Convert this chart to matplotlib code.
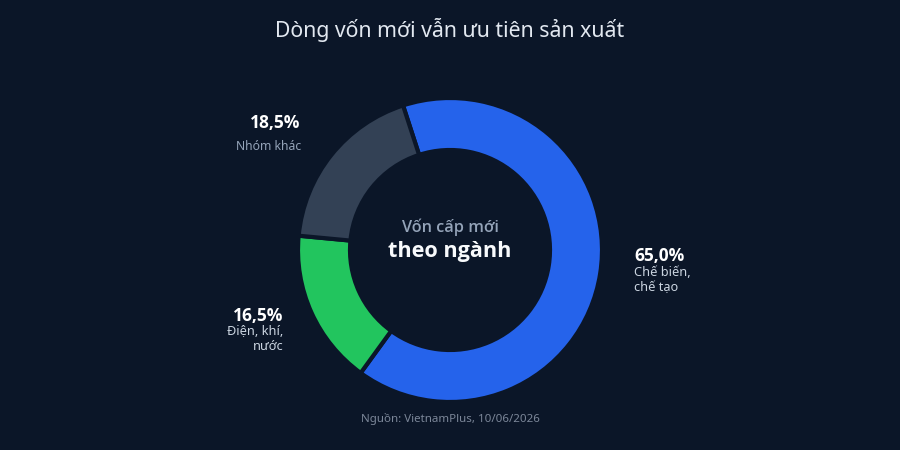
import matplotlib
matplotlib.use("Agg")
import matplotlib.pyplot as plt

plt.rcParams['font.family'] = ['Noto Sans', 'DejaVu Sans']
BOLD = ['Open Sans', 'Noto Sans', 'DejaVu Sans']

# Data
categories = ["Chế biến,\nchế tạo", "Điện, khí,\nnước", "Nhóm khác"]
values = [65.0, 16.5, 18.5]
value_labels = ["65,0%", "16,5%", "18,5%"]
colors = ["#2563eb", "#22c55e", "#334155"]

title = "Dòng vốn mới vẫn ưu tiên sản xuất"
center_top = "Vốn cấp mới"
center_main = "theo ngành"
source = "Nguồn: VietnamPlus, 10/06/2026"

BG = "#0b1628"
W, H = 900, 450

fig = plt.figure(figsize=(9, 4.5), dpi=100, facecolor=BG)
ax = fig.add_axes([0, 0, 1, 1])
ax.set_facecolor(BG)

cx, cy = 450, H - 250
ax.pie(values, colors=colors, startangle=108, counterclock=False,
       center=(cx, cy), radius=152,
       wedgeprops=dict(width=52, edgecolor=BG, linewidth=3))
ax.set_xlim(0, W)
ax.set_ylim(0, H)
ax.set_aspect('equal')
ax.axis('off')

def Y(y):
    return H - y

ax.text(450, Y(30), title, ha='center', va='center', fontsize=15.3, color='#e2e8f0')

ax.text(450, Y(227), center_top, ha='center', va='center', fontsize=11.7,
        color='#94a3b8', fontweight=600, family=BOLD)
ax.text(450, Y(252), center_main, ha='center', va='center', fontsize=15.6,
        color='#f8fafc', fontweight='bold', family=BOLD)

# 65,0%
ax.text(634, Y(256), value_labels[0], ha='left', va='center', fontsize=12.5,
        color='#ffffff', fontweight='bold', family=BOLD)
ax.text(634, Y(280), categories[0], ha='left', va='center', fontsize=9.2,
        color='#cbd5e1', linespacing=1.2)

# 16,5%
ax.text(283, Y(316), value_labels[1], ha='right', va='center', fontsize=12.5,
        color='#ffffff', fontweight='bold', family=BOLD)
ax.text(283, Y(339), categories[1], ha='right', va='center', fontsize=9.2,
        color='#cbd5e1', linespacing=1.2, multialignment='right')

# 18,5%
ax.text(300, Y(123), value_labels[2], ha='right', va='center', fontsize=12.5,
        color='#ffffff', fontweight='bold', family=BOLD)
ax.text(301, Y(146), categories[2], ha='right', va='center', fontsize=8.8,
        color='#94a3b8')

ax.text(450, Y(419), source, ha='center', va='center', fontsize=8.3, color='#7c8799')

fig.savefig("out.png", dpi=100, facecolor=BG)
